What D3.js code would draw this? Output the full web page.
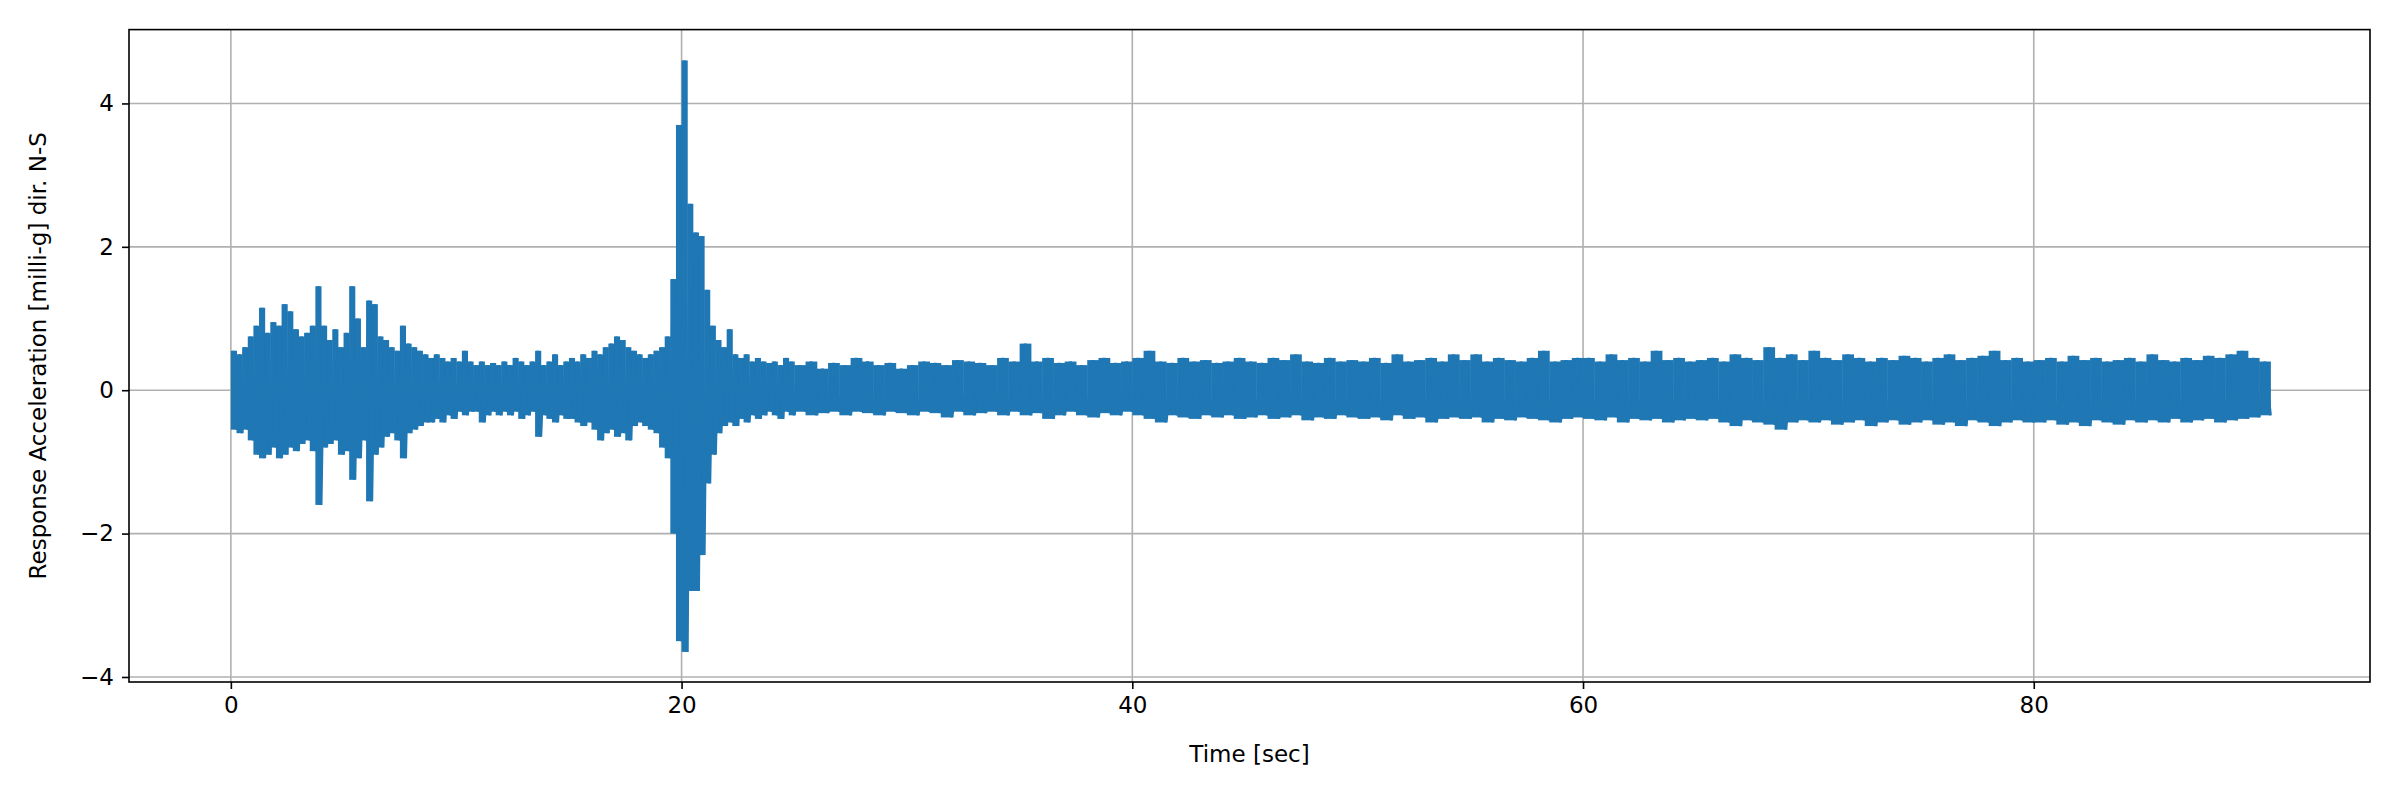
<!DOCTYPE html>
<html>
<head>
<meta charset="utf-8">
<script src="https://cdn.jsdelivr.net/npm/d3@7"></script>
<style>
  body { margin: 0; background: #fff; }
  text { font-family: "DejaVu Sans", sans-serif; }
</style>
</head>
<body>
<div id="chart"></div>
<script>
const width = 2400
const height = 800

// segment 1: 0 .. 24.75 s, step 0.25
const seg1Start = 0, seg1Step = 0.25
const seg1Hi = [
  0.55,0.5,0.6,0.75,0.9,1.15,0.8,0.95,0.9,1.2,1.1,0.85,
  0.75,0.8,0.9,1.45,0.9,0.7,0.85,0.6,0.8,1.45,1.0,0.6,
  1.25,1.2,0.75,0.7,0.6,0.55,0.9,0.65,0.6,0.55,0.5,0.45,
  0.5,0.45,0.4,0.45,0.4,0.55,0.4,0.35,0.4,0.35,0.38,0.35,
  0.4,0.35,0.45,0.4,0.35,0.4,0.55,0.35,0.4,0.5,0.35,0.4,
  0.45,0.4,0.5,0.45,0.55,0.5,0.6,0.65,0.75,0.7,0.6,0.55,
  0.5,0.45,0.5,0.55,0.6,0.75,1.55,3.7,4.6,2.6,2.2,2.15,
  1.4,0.9,0.7,0.6,0.85,0.5,0.45,0.5,0.4,0.45,0.4,0.38,
  0.4,0.35,0.45,0.4
]
const seg1Lo = [
  -0.55,-0.6,-0.55,-0.7,-0.9,-0.95,-0.9,-0.8,-0.95,-0.9,-0.8,-0.85,
  -0.75,-0.7,-0.85,-1.6,-0.8,-0.75,-0.7,-0.9,-0.85,-1.25,-0.95,-0.7,
  -1.55,-0.9,-0.8,-0.65,-0.6,-0.7,-0.95,-0.6,-0.55,-0.5,-0.45,-0.45,
  -0.4,-0.45,-0.35,-0.4,-0.3,-0.35,-0.3,-0.3,-0.45,-0.35,-0.3,-0.35,
  -0.3,-0.35,-0.3,-0.4,-0.35,-0.3,-0.65,-0.35,-0.4,-0.45,-0.35,-0.4,
  -0.4,-0.45,-0.5,-0.45,-0.55,-0.7,-0.6,-0.55,-0.65,-0.6,-0.7,-0.5,
  -0.45,-0.5,-0.55,-0.6,-0.8,-0.95,-2.0,-3.5,-3.65,-2.8,-2.8,-2.3,
  -1.3,-0.9,-0.6,-0.5,-0.45,-0.5,-0.4,-0.45,-0.35,-0.4,-0.35,-0.3,
  -0.35,-0.4,-0.3,-0.35
]

// segment 2: 25 .. 90 s, step 0.5
const seg2Start = 25, seg2Step = 0.5
const seg2Hi = [
  0.35,0.4,0.3,0.38,0.35,0.45,0.4,0.35,0.38,0.3,
  0.35,0.4,0.38,0.35,0.42,0.4,0.38,0.35,0.45,0.4,
  0.65,0.4,0.45,0.38,0.4,0.35,0.42,0.45,0.38,0.4,
  0.45,0.55,0.4,0.38,0.45,0.4,0.42,0.38,0.4,0.45,
  0.4,0.38,0.45,0.42,0.5,0.4,0.38,0.45,0.4,0.42,
  0.4,0.45,0.38,0.5,0.4,0.42,0.45,0.4,0.5,0.42,
  0.5,0.4,0.45,0.42,0.4,0.45,0.55,0.4,0.42,0.45,
  0.45,0.4,0.5,0.42,0.45,0.4,0.55,0.42,0.45,0.4,
  0.42,0.45,0.4,0.5,0.45,0.42,0.6,0.45,0.5,0.42,
  0.55,0.45,0.42,0.5,0.45,0.4,0.45,0.42,0.48,0.45,
  0.4,0.45,0.5,0.42,0.45,0.48,0.55,0.42,0.45,0.4,
  0.42,0.45,0.4,0.48,0.42,0.45,0.4,0.42,0.45,0.4,
  0.5,0.42,0.4,0.45,0.42,0.48,0.45,0.5,0.55,0.45,
  0.4
]
const seg2Lo = [
  -0.3,-0.35,-0.32,-0.3,-0.35,-0.3,-0.32,-0.35,-0.3,-0.32,
  -0.35,-0.3,-0.32,-0.38,-0.3,-0.35,-0.32,-0.3,-0.35,-0.3,
  -0.35,-0.32,-0.4,-0.35,-0.3,-0.35,-0.38,-0.32,-0.35,-0.3,
  -0.35,-0.4,-0.45,-0.35,-0.38,-0.4,-0.35,-0.38,-0.35,-0.4,
  -0.38,-0.35,-0.4,-0.38,-0.35,-0.42,-0.38,-0.4,-0.35,-0.38,
  -0.4,-0.38,-0.42,-0.35,-0.4,-0.38,-0.45,-0.4,-0.38,-0.4,
  -0.38,-0.45,-0.4,-0.42,-0.38,-0.4,-0.42,-0.45,-0.4,-0.38,
  -0.4,-0.42,-0.38,-0.45,-0.4,-0.42,-0.4,-0.45,-0.42,-0.4,
  -0.42,-0.4,-0.45,-0.5,-0.42,-0.45,-0.48,-0.55,-0.45,-0.42,
  -0.45,-0.42,-0.48,-0.45,-0.42,-0.5,-0.45,-0.42,-0.48,-0.45,
  -0.42,-0.48,-0.45,-0.5,-0.42,-0.45,-0.5,-0.45,-0.42,-0.45,
  -0.45,-0.42,-0.48,-0.45,-0.5,-0.42,-0.45,-0.48,-0.42,-0.45,
  -0.42,-0.45,-0.4,-0.45,-0.42,-0.4,-0.45,-0.42,-0.4,-0.38,
  -0.35
]

const xTicks = [0, 20, 40, 60, 80]
const yTicks = [-4, -2, 0, 2, 4]

const margin = {left: 129, right: 30, top: 29.6, bottom: 118}

const svg = d3.select("#chart")
  .append("svg")
    .attr("width", width)
    .attr("height", height)

const x = d3.scaleLinear()
  .domain([-4.52, 94.92])
  .range([margin.left, width - margin.right])
const y = d3.scaleLinear()
  .domain([-4.07, 5.03])
  .range([height - margin.bottom, margin.top])

// samples as {t, step, hi, lo}
function samples(start, step, hi, lo) {
  return hi.map((h, i) => ({t: start + i * step, step: step, hi: h, lo: lo[i]}))
}
const data = samples(seg1Start, seg1Step, seg1Hi, seg1Lo)
  .concat(samples(seg2Start, seg2Step, seg2Hi, seg2Lo))

// grid
svg.append("g")
  .selectAll("line")
  .data(xTicks)
  .join("line")
    .attr("x1", d => x(d)).attr("x2", d => x(d))
    .attr("y1", y.range()[0]).attr("y2", y.range()[1])
    .attr("stroke", "#b0b0b0").attr("stroke-width", 1.6)
svg.append("g")
  .selectAll("line")
  .data(yTicks)
  .join("line")
    .attr("x1", x.range()[0]).attr("x2", x.range()[1])
    .attr("y1", d => y(d)).attr("y2", d => y(d))
    .attr("stroke", "#b0b0b0").attr("stroke-width", 1.6)

// each sample's range as a solid band
svg.append("g")
  .selectAll("rect")
  .data(data)
  .join("rect")
    .attr("x", d => x(d.t))
    .attr("width", d => x(d.t + d.step) - x(d.t) + 0.5)
    .attr("y", d => y(d.hi))
    .attr("height", d => y(d.lo) - y(d.hi))
    .attr("fill", "#1f77b4")

// peaks and troughs trace
const pts = []
data.forEach(d => { pts.push([d.t + d.step * 0.5, d.hi]); pts.push([d.t + d.step, d.lo]) })
svg.append("path")
  .datum(pts)
  .attr("fill", "none")
  .attr("stroke", "#1f77b4")
  .attr("stroke-width", 3)
  .attr("d", d3.line().x(d => x(d[0])).y(d => y(d[1])))

// axes
const xAxis = svg.append("g")
  .attr("transform", `translate(0,${height - margin.bottom})`)
  .call(d3.axisBottom(x).tickValues(xTicks).tickSize(7).tickPadding(8).tickFormat(d3.format("d")))
const yAxis = svg.append("g")
  .attr("transform", `translate(${margin.left},0)`)
  .call(d3.axisLeft(y).tickValues(yTicks).tickSize(7).tickPadding(8).tickFormat(d => d < 0 ? "\u2212" + Math.abs(d) : d))
for (const a of [xAxis, yAxis]) {
  a.select(".domain").remove()
  a.selectAll("line").attr("stroke", "#000").attr("stroke-width", 1.6)
  a.selectAll("text").style("font-size", "23px").attr("fill", "#000")
}

svg.append("rect")
  .attr("x", margin.left).attr("y", margin.top)
  .attr("width", width - margin.left - margin.right)
  .attr("height", height - margin.top - margin.bottom)
  .attr("fill", "none").attr("stroke", "#000").attr("stroke-width", 1.6)

svg.append("text")
  .attr("x", (x.range()[0] + x.range()[1]) / 2)
  .attr("y", 762)
  .attr("text-anchor", "middle")
  .style("font-size", "23px")
  .text("Time [sec]")

svg.append("text")
  .attr("transform", `translate(46,${(y.range()[0] + y.range()[1]) / 2}) rotate(-90)`)
  .attr("text-anchor", "middle")
  .style("font-size", "23px")
  .text("Response Acceleration [milli-g] dir. N-S")
</script>
</body>
</html>
